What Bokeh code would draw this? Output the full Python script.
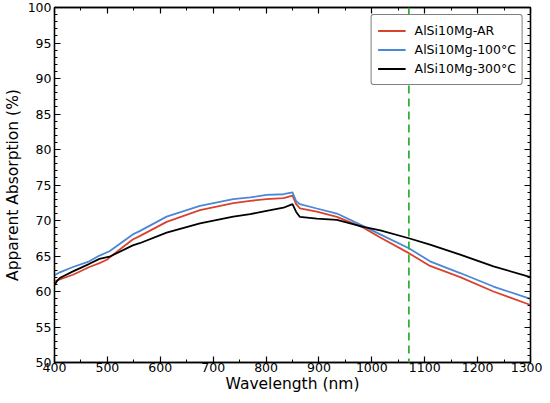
from bokeh.plotting import figure
from bokeh.models import (LinearAxis, SingleIntervalTicker, Span, Range1d, Legend, LegendItem,
                          CustomLabelingPolicy)
from bokeh.embed import file_html
from bokeh.resources import INLINE

# ---- data ----
wl_ar = [400, 410, 435, 466, 485, 500, 504, 548, 561, 612, 675, 738, 770, 801, 833, 850,
         857, 864, 896, 934, 984, 1016, 1070, 1110, 1167, 1230, 1300]
abs_ar = [61.4, 61.7, 62.36, 63.45, 64.0, 64.5, 64.8, 67.33, 67.8, 69.8, 71.45, 72.44, 72.77,
          73.0, 73.15, 73.5, 72.3, 71.7, 71.26, 70.5, 69.0, 67.6, 65.4, 63.6, 62.03, 60.0, 58.1]

wl_100 = [400, 410, 435, 466, 485, 504, 548, 561, 612, 675, 738, 770, 801, 833, 850,
          857, 864, 896, 934, 984, 1016, 1070, 1110, 1167, 1230, 1300]
abs_100 = [62.3, 62.7, 63.45, 64.25, 65.06, 65.67, 68.04, 68.5, 70.55, 72.06, 73.0, 73.25,
           73.6, 73.7, 73.96, 72.7, 72.3, 71.69, 70.98, 69.2, 68.04, 66.1, 64.25, 62.6, 60.7, 58.95]

wl_300 = [400, 405, 410, 435, 466, 485, 504, 548, 561, 612, 675, 738, 770, 801, 833, 850,
          857, 864, 896, 934, 984, 1016, 1070, 1110, 1167, 1230, 1300]
abs_300 = [60.9, 61.5, 61.9, 62.83, 63.9, 64.6, 64.9, 66.5, 66.8, 68.3, 69.6, 70.55, 70.9,
           71.35, 71.8, 72.3, 71.2, 70.5, 70.27, 70.08, 69.1, 68.6, 67.5, 66.6, 65.2, 63.54, 62.03]

series_labels = ["AlSi10Mg-AR", "AlSi10Mg-100°C", "AlSi10Mg-300°C"]
laser_wl = [1070]

FONT = "DejaVu Sans"

p = figure(width=542, height=395, output_backend="svg", toolbar_location=None,
           x_range=Range1d(400, 1300), y_range=Range1d(50, 100),
           min_border_left=40, min_border_right=12, min_border_top=7, min_border_bottom=30)

bottom = p.below[0]
left = p.left[0]
bottom.ticker = SingleIntervalTicker(interval=100, num_minor_ticks=2)
left.ticker = SingleIntervalTicker(interval=5, num_minor_ticks=5)
bottom.axis_label = "Wavelength (nm)"
left.axis_label = "Apparent Absorption (%)"

p.grid.visible = False
p.outline_line_color = "black"
p.outline_line_width = 1.3

hide_all = CustomLabelingPolicy(code="""
const ids = Array.from(indices);
for (const i of ids) indices.unset(i);
return indices;
""")
top = LinearAxis(ticker=SingleIntervalTicker(interval=100, num_minor_ticks=2))
right = LinearAxis(ticker=SingleIntervalTicker(interval=5, num_minor_ticks=5))

for ax in (bottom, left, top, right):
    ax.major_tick_in = 6
    ax.major_tick_out = 0
    ax.minor_tick_in = 3
    ax.minor_tick_out = 0
    ax.axis_line_color = "black"
    ax.axis_line_width = 1.3
    ax.major_tick_line_width = 1.2
    ax.minor_tick_line_width = 1.0
    ax.major_tick_line_color = "black"
    ax.minor_tick_line_color = "black"
    ax.major_label_text_color = "black"
    ax.axis_label_text_color = "black"
    ax.axis_label_text_font = FONT
    ax.major_label_text_font = FONT
    ax.axis_label_text_font_style = "normal"
    ax.major_label_text_font_size = "12.5px"
    ax.axis_label_text_font_size = "15.5px"
for ax in (top, right):
    ax.major_label_policy = hide_all
    ax.major_label_text_font_size = "1px"
    ax.major_label_standoff = 0
bottom.major_label_standoff = 0
bottom.axis_label_standoff = 0
left.major_label_standoff = 3
left.axis_label_standoff = 3
p.add_layout(top, "above")
p.add_layout(right, "right")

r1 = p.line(wl_ar, abs_ar, line_color="#d9432e", line_width=1.8)
r2 = p.line(wl_100, abs_100, line_color="#4b87d8", line_width=1.8)
r3 = p.line(wl_300, abs_300, line_color="black", line_width=1.8)

span = Span(location=laser_wl[0], dimension="height", line_color="#32ad3c",
            line_width=1.8, line_dash="8 5")
p.add_layout(span)

legend = Legend(items=[LegendItem(label=series_labels[0], renderers=[r1]),
                       LegendItem(label=series_labels[1], renderers=[r2]),
                       LegendItem(label=series_labels[2], renderers=[r3])],
                location="top_right")
legend.label_text_font = FONT
legend.label_text_font_size = "12.5px"
legend.label_text_color = "black"
legend.border_line_color = "black"
legend.border_line_width = 1
legend.border_radius = 3
legend.margin = 7
legend.padding = 6
legend.spacing = 0
legend.label_height = 19
legend.glyph_height = 19
legend.glyph_width = 28
legend.label_standoff = 9
legend.background_fill_alpha = 1
p.add_layout(legend)

open("out.html", "w").write(file_html(p, INLINE))
